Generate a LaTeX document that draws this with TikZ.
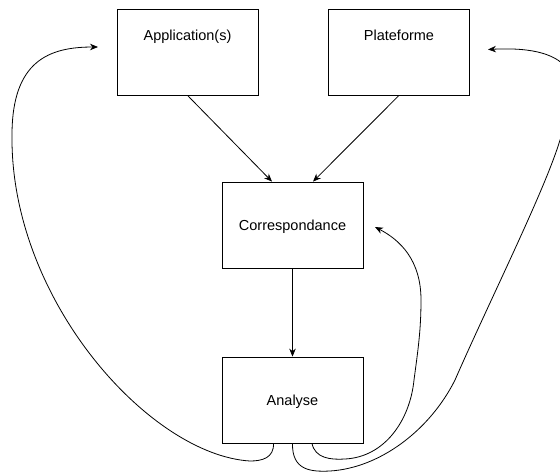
\documentclass[tikz,border=0pt]{standalone}
\usepackage{fontspec}
\setmainfont{Liberation Sans}
\usetikzlibrary{arrows.meta,calc}

\tikzset{
  box/.style={draw, line width=0.8pt, minimum width=141pt, minimum height=86pt,
              inner sep=0pt, text height=11pt, text depth=0pt,
              font=\fontsize{14.5pt}{16pt}\selectfont},
  topbox/.style={box, text depth=35pt},
  flow/.style={line width=0.8pt, -{Stealth[length=8pt,width=6.5pt]}},
}

\begin{document}
\begin{tikzpicture}[x=1pt,y=-1pt]
  \fill[white] (0,0) rectangle (560,472);
  \useasboundingbox (0,0) rectangle (560,472);

  % boxes
  \node[topbox] (app)  at (187.5,52)  {Application(s)};
  \node[topbox] (plat) at (399,52)    {Plateforme};
  \node[box]    (corr) at (292.5,225) {Correspondance};
  \node[box]    (ana)  at (292.5,400) {Analyse};

  % loose ends of the feedback loops
  \coordinate (appin)  at (98,47);
  \coordinate (platin) at (488,49.5);
  \coordinate (corrin) at (375,227);

  % straight links
  \draw[flow] (app.south)  -- ($(corr.north)+(-20.5,0)$);
  \draw[flow] (plat.south) -- ($(corr.north)+(20.5,0)$);
  \draw[flow] (corr.south) -- (ana.north);

  % Analyse back to Application(s), round the left side
  \draw[flow] ($(ana.south)+(-19,0)$)
      .. controls (274,458) and (262,461) .. (250,461)
      .. controls (150,455) and (10,300) .. (12,135)
      .. controls (12,60) and (50,47) .. (appin);

  % Analyse back to Plateforme, round the right side
  \draw[flow] (ana.south)
      .. controls (292,470) and (310,472) .. (330,471)
      .. controls (380,468) and (430,430) .. (455,380)
      .. controls (490,300) and (545,190) .. (560,140)
      .. controls (590,80) and (575,45) .. (platin);

  % Analyse back to Correspondance
  \draw[flow] ($(ana.south)+(19.5,0)$)
      .. controls (315,458) and (330,460) .. (345,459)
      .. controls (385,457) and (410,420) .. (414,380)
      .. controls (418,350) and (421,330) .. (421,300)
      .. controls (421,260) and (400,240) .. (corrin);
\end{tikzpicture}
\end{document}
